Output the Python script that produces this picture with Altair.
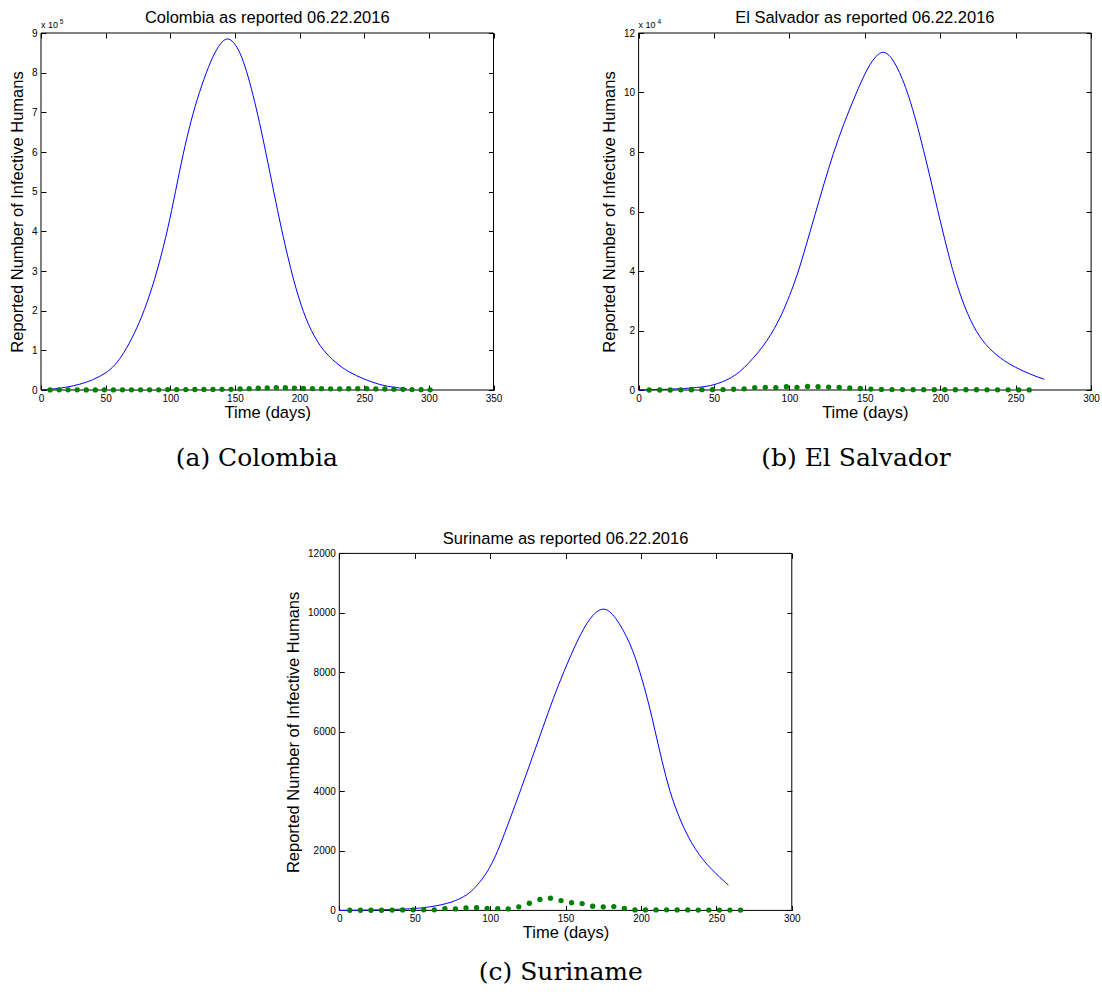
import altair as alt
import pandas as pd

FONT = "Liberation Sans"
SERIF = "DejaVu Serif"

# ---------------- data ----------------
col_curve_t = [0, 10, 20, 30, 40, 50, 57, 64, 72, 80, 88, 95, 101, 107, 113, 119, 126, 133, 139, 144,
               149, 154, 159, 164, 169, 174, 180, 186, 193, 201, 209, 218, 228, 238, 250, 262, 272, 283]
col_curve_v = [0, 2500, 7000, 14000, 25000, 42000, 61000, 92000, 140000, 200000, 278000, 363000,
               450000, 550000, 640000, 715000, 785000, 843000, 876000, 889000, 878000, 852000,
               805000, 745000, 675000, 598000, 500000, 405000, 305000, 212000, 147000, 100000,
               68000, 45000, 27000, 13000, 7000, 3000]
col_obs_t = [7, 14, 21, 28, 35, 42, 49, 56, 63, 70, 77, 84, 91, 98, 105, 112, 119, 126, 133, 140,
             147, 154, 161, 168, 175, 182, 189, 196, 203, 210, 217, 224, 231, 238, 245, 252, 259,
             266, 273, 280, 287, 294, 301]
col_obs_v = [300, 400, 500, 400, 300, 300, 400, 300, 400, 400, 400, 500, 500, 1000, 1200, 1200,
             1300, 1400, 1500, 1600, 1800, 2600, 3400, 4500, 5500, 6200, 5800, 4800, 4000, 3700,
             3300, 3000, 2800, 3200, 3400, 3300, 2800, 2500, 2000, 1600, 1000, 800, 500]

es_curve_t = [0, 20, 40, 50, 60, 67, 73, 80, 85, 90, 95, 100, 105.5, 111, 117, 123, 129, 136, 144,
              151, 156, 161, 166, 171, 175, 179, 184, 189, 194, 198, 203, 208, 214, 222, 230, 240,
              250, 260, 269]
es_curve_v = [0, 200, 800, 1600, 3600, 6000, 9000, 13000, 16500, 20500, 25500, 31500, 39000,
              48500, 59000, 69500, 79500, 89500, 99500, 107500, 111500, 114000, 113000, 109000,
              104500, 99000, 90500, 80500, 70000, 61000, 50500, 40500, 30500, 21000, 15000,
              10500, 7500, 5200, 3600]
es_obs_t = [7, 14, 21, 28, 35, 42, 49, 56, 63, 70, 77, 84, 91, 98, 105, 112, 119, 126, 133, 140,
            147, 154, 161, 168, 175, 182, 189, 196, 203, 210, 217, 224, 231, 238, 245, 252, 259]
es_obs_v = [0, 0, 0, 50, 80, 100, 100, 150, 250, 400, 800, 900, 800, 1100, 900, 1200, 1100, 1000,
            900, 700, 500, 300, 200, 150, 150, 100, 100, 100, 100, 80, 80, 80, 60, 60, 50, 40, 30]

su_curve_t = [0, 25, 50, 60, 75, 85, 90, 96, 101, 106, 113, 121, 128, 135, 142, 149, 158, 166, 175,
              183, 193, 199.5, 205, 209.5, 214, 219, 226, 236, 247, 258]
su_curve_v = [0, 10, 56, 110, 260, 520, 760, 1120, 1550, 2100, 3050, 4150, 5150, 6150, 7150, 8050,
              9100, 9850, 10250, 9900, 9000, 8000, 7000, 6000, 5000, 4000, 3000, 2000, 1350, 850]
su_obs_t = [7, 14, 21, 28, 35, 42, 49, 56, 63, 70, 77, 84, 91, 98, 105, 112, 119, 126, 133, 140,
            147, 154, 161, 168, 175, 182, 189, 196, 203, 210, 217, 224, 231, 238, 245, 252, 259, 266]
su_obs_v = [5, 5, 5, 5, 10, 15, 20, 20, 20, 60, 50, 80, 90, 70, 60, 50, 120, 240, 370, 410, 330,
            260, 230, 140, 120, 130, 70, 15, 15, 15, 20, 15, 15, 10, 10, 10, 10, 10]

x_ticks_350 = [0, 50, 100, 150, 200, 250, 300, 350]
x_ticks_300 = [0, 50, 100, 150, 200, 250, 300]
col_y_ticks = [0, 100000, 200000, 300000, 400000, 500000, 600000, 700000, 800000, 900000]
es_y_ticks = [0, 20000, 40000, 60000, 80000, 100000, 120000]
su_y_ticks = [0, 2000, 4000, 6000, 8000, 10000, 12000]

titles = ["Colombia as reported 06.22.2016", "El Salvador as reported 06.22.2016",
          "Suriname as reported 06.22.2016"]
captions = ["(a) Colombia", "(b) El Salvador", "(c) Suriname"]

# ---------------- layout (pixels, relative to the top-left of panel (a)) ----------------
WT, HT = 1050.1, 877.0          # whole drawing area
PW, PH = 452.5, 357.0           # one panel's plot area
one = pd.DataFrame({"a": [0]})


def tick_axis(orient, vals, off):
    return alt.Axis(orient=orient, values=vals, labels=False, domain=False, grid=False,
                    ticks=True, tickSize=5, tickColor="black", tickWidth=1, offset=off - 5,
                    title=None)


def panel(curve_t, curve_v, obs_t, obs_v, xmax, xt, ymax, yt, exp, x0, y0):
    x1, y1 = x0 + PW, y0 + PH
    off_b, off_t, off_l, off_r = y1 - HT, -y0, -x0, x1 - WT
    curve = pd.DataFrame({"t": curve_t, "v": curve_v})
    obs = pd.DataFrame({"t": obs_t, "v": obs_v})
    xs = alt.Scale(domain=[0, xmax], range=[x0, x1], nice=False, zero=True)
    ys = alt.Scale(domain=[0, ymax], range=[y1, y0], nice=False, zero=True)
    yax = dict(orient="left", values=yt, ticks=False, tickSize=0, domain=False, grid=False,
               labelPadding=4, labelFlush=False, offset=off_l,
               title="Reported Number of Infective Humans", titlePadding=6)
    if exp:
        yax["labelExpr"] = f"datum.value / {10 ** exp}"
    else:
        yax["format"] = "d"
    frame = alt.Chart(pd.DataFrame({"x0": [0], "x1": [xmax], "y0": [0], "y1": [ymax]})).mark_rect(
        fillOpacity=0, stroke="black", strokeWidth=1).encode(
        x=alt.X("x0:Q", scale=xs, axis=None), x2="x1:Q",
        y=alt.Y("y0:Q", scale=ys, axis=None), y2="y1:Q")
    line = alt.Chart(curve).mark_line(color="#0000ff", strokeWidth=1, interpolate="basis").encode(
        x=alt.X("t:Q", scale=xs, axis=alt.Axis(orient="bottom", values=xt, ticks=False, tickSize=0,
                                               domain=False, grid=False, labelPadding=3,
                                               labelFlush=False, offset=off_b,
                                               title="Time (days)", titlePadding=1)),
        y=alt.Y("v:Q", scale=ys, axis=alt.Axis(**yax)),
    )
    pts = alt.Chart(obs).mark_circle(color="#008000", size=28, opacity=1).encode(
        x=alt.X("t:Q", scale=xs, axis=tick_axis("bottom", xt, off_b)),
        y=alt.Y("v:Q", scale=ys, axis=tick_axis("left", yt, off_l)),
    )
    hidden = alt.Chart(obs).mark_circle(opacity=0).encode(
        x=alt.X("t:Q", scale=xs, axis=tick_axis("top", xt, off_t)),
        y=alt.Y("v:Q", scale=ys, axis=tick_axis("right", yt, off_r)),
    )
    return alt.layer(frame, line, pts, hidden).resolve_axis(x="independent", y="independent")


def label(text, x, y, size, font=FONT, align="center"):
    return alt.Chart(one).mark_text(text=text, align=align, baseline="alphabetic", fontSize=size,
                                    font=font, color="black").encode(x=alt.value(x), y=alt.value(y))


# panel origins: (a) top-left, (b) top-right, (c) bottom-centre
AX, AY = 0.0, 0.0
BX, BY = 597.6, 0.0
CX, CY = 298.3, 520.4

A = panel(col_curve_t, col_curve_v, col_obs_t, col_obs_v, 350, x_ticks_350, 900000, col_y_ticks, 5, AX, AY)
B = panel(es_curve_t, es_curve_v, es_obs_t, es_obs_v, 300, x_ticks_300, 120000, es_y_ticks, 4, BX, BY)
C = panel(su_curve_t, su_curve_v, su_obs_t, su_obs_v, 300, x_ticks_300, 12000, su_y_ticks, 0, CX, CY)

texts = [
    label(titles[0], AX + PW / 2, AY - 9.6, 16.5),
    label(titles[1], BX + PW / 2, BY - 9.6, 16.5),
    label(titles[2], CX + PW / 2, CY - 9.6, 16.5),
    label("x 10", AX, AY - 5, 9, align="left"),
    label("5", AX + 18.8, AY - 9, 6.5, align="left"),
    label("x 10", BX, BY - 5, 9, align="left"),
    label("4", BX + 18.8, BY - 9, 6.5, align="left"),
    label(captions[0], AX + 215.8, AY + 433.4, 25, font=SERIF),
    label(captions[1], BX + 217.4, BY + 433.4, 25, font=SERIF),
    label(captions[2], CX + 221.5, CY + 427.0, 25, font=SERIF),
]

anchor = alt.Chart(one).mark_rect(opacity=0).encode(
    x=alt.value(-40.7), x2=alt.value(-40.7), y=alt.value(-32.3), y2=alt.value(-32.3))

chart = alt.layer(A, B, C, *texts, anchor).resolve_scale(
    x="independent", y="independent").resolve_axis(x="independent", y="independent").properties(
    width=WT, height=HT, padding=0, background="white"
).configure_axis(
    labelFont=FONT, titleFont=FONT, labelFontSize=10, titleFontSize=16.5, labelColor="black",
    titleColor="black", titleFontWeight="normal", grid=False, labelFlush=False
).configure_view(stroke="transparent")

chart.save("out.html", embed_options={"renderer": "svg", "actions": False})
